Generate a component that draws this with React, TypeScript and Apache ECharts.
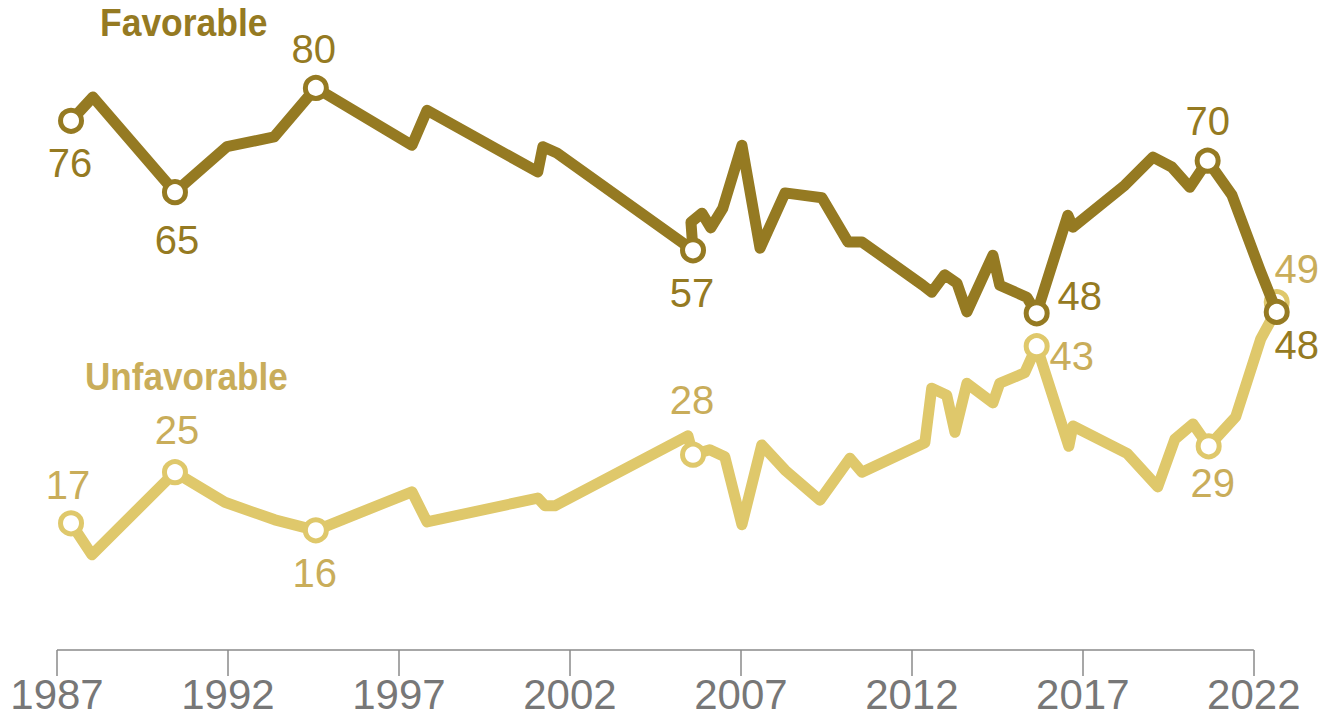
import React, { useEffect, useRef } from "react";
import * as echarts from "echarts";

const BASE_YEAR = 1987;
const tickYears = [1987, 1992, 1997, 2002, 2007, 2012, 2017, 2022];
const AXIS_END_YEAR = 2023;

const favYears = [
  1987.41, 1988.05, 1990.45, 1991.97, 1993.35, 1994.57, 1997.38, 1997.82, 2001.06, 2001.21,
  2001.62, 2005.6, 2005.54, 2005.86, 2006.12, 2006.47, 2007.03, 2007.56, 2008.29, 2009.37,
  2010.13, 2010.54, 2012.32, 2012.58, 2012.96, 2013.32, 2013.61, 2014.37, 2014.57, 2015.36,
  2015.65, 2016.56, 2016.71, 2018.23, 2019.05, 2019.6, 2020.13, 2020.65, 2021.36, 2022.18,
  2022.67,
];
const favValues = [
  75.6, 79, 65.4, 71.9, 73.3, 80.3, 72.1, 77.1, 68.3, 71.9,
  71, 57.1, 61.1, 62.4, 60.3, 63.1, 72.1, 57.4, 65.3, 64.6,
  58.3, 58.3, 52.1, 51.1, 53.6, 52.4, 48.3, 56.4, 52.1, 50.4,
  48.1, 62.1, 60.4, 66.4, 70.4, 69, 66.1, 69.9, 65, 54.3,
  48.3,
];
const favMarkerIdx = [0, 2, 5, 11, 30, 37, 40];
const favLabels = ["76", "65", "80", "57", "48", "70", "48"];

const unfavYears = [
  1987.41, 1988.02, 1990.45, 1991.91, 1993.37, 1994.57, 1997.38, 1997.82, 2001.06, 2001.27,
  2001.56, 2005.45, 2005.6, 2006.09, 2006.53, 2007.03, 2007.61, 2008.29, 2009.31, 2010.19,
  2010.54, 2012.38, 2012.58, 2013.02, 2013.26, 2013.61, 2014.37, 2014.57, 2015.3, 2015.65,
  2016.59, 2016.71, 2018.29, 2019.19, 2019.69, 2020.22, 2020.68, 2021.47, 2022.2, 2022.49,
  2022.67,
];
const unfavValues = [
  18.1, 13.6, 25.4, 21.1, 18.6, 17.1, 22.6, 18.3, 21.7, 20.6,
  20.6, 30.6, 27.9, 28.6, 27.6, 17.9, 29.3, 25.7, 21.4, 27.4,
  25.4, 29.6, 37.4, 36.4, 31.1, 38.1, 35.3, 38.1, 39.6, 43.4,
  29.1, 32, 28.1, 23.3, 30.1, 32.3, 29.1, 33.3, 44.4, 47,
  49.7,
];
const unfavMarkerIdx = [0, 2, 5, 12, 29, 36, 40];
const unfavLabels = ["17", "25", "16", "28", "43", "29", "49"];

// label offsets relative to marker centre (styling)
const favLabelOffsets = [[-1, 42], [2, 48], [-2, -39], [-1, 43], [43, -17], [0, -40], [20, 33]];
const unfavLabelOffsets = [[-3, -38], [2, -42], [-1, 43], [-1, -55], [35, 10], [4, 37], [20, -33]];

const FAV = "#957A22";
const UNFAV = "#DFC86B";
const UNFAV_TEXT = "#C9AD5A";
const AXIS = "#8a8a8a";
const FONT = "'Liberation Sans', Arial, sans-serif";

export default function App() {
  const ref = useRef<HTMLDivElement>(null);
  useEffect(() => {
    if (!ref.current) return;
    const chart = echarts.init(ref.current, null, { renderer: "svg" });
    const toPts = (ys: number[], vs: number[]) => ys.map((y, i) => [y - BASE_YEAR, vs[i]]);
    const markers = (ys: number[], vs: number[], idx: number[], labels: string[], offs: number[][], textColor: string) =>
      idx.map((k, j) => ({
        value: [ys[k] - BASE_YEAR, vs[k]],
        label: {
          show: true,
          formatter: labels[j],
          position: "inside",
          offset: offs[j],
          color: textColor,
          fontSize: 40,
          fontFamily: FONT,
        },
      }));
    const tickOffsets = tickYears.map((y) => y - BASE_YEAR);
    const option: any = {
      animation: false,
      grid: { left: 57, right: 37, top: 20, bottom: 68 },
      xAxis: {
        type: "value",
        min: 0,
        max: AXIS_END_YEAR - BASE_YEAR,
        axisLine: { show: false },
        axisTick: {
          show: true,
          length: 26,
          customValues: tickOffsets,
          lineStyle: { color: AXIS, width: 1.5 },
        },
        splitLine: { show: false },
        axisLabel: {
          customValues: tickOffsets,
          formatter: (v: number) => String(v + BASE_YEAR),
          fontSize: 42,
          lineHeight: 36,
          color: "#777777",
          fontFamily: FONT,
          margin: 26,
        },
      },
      yAxis: { type: "value", min: 0, max: 90, show: false },
      series: [
        {
          type: "line",
          data: toPts(unfavYears, unfavValues),
          symbol: "none",
          clip: false,
          z: 1,
          lineStyle: { color: UNFAV, width: 11, cap: "round", join: "round" },
          markLine: {
            silent: true,
            symbol: "none",
            label: { show: false },
            lineStyle: { color: AXIS, width: 1.5, type: "solid" },
            data: [[{ coord: [tickOffsets[0], 0] }, { coord: [tickOffsets[tickOffsets.length - 1], 0] }]],
          },
        },
        {
          type: "scatter",
          data: markers(unfavYears, unfavValues, unfavMarkerIdx, unfavLabels, unfavLabelOffsets, UNFAV_TEXT),
          symbol: "circle",
          symbolSize: 21,
          clip: false,
          z: 2,
          itemStyle: { color: "#ffffff", borderColor: UNFAV, borderWidth: 5, opacity: 1 },
        },
        {
          type: "line",
          data: toPts(favYears, favValues),
          symbol: "none",
          clip: false,
          z: 3,
          lineStyle: { color: FAV, width: 11, cap: "round", join: "round" },
        },
        {
          type: "scatter",
          data: markers(favYears, favValues, favMarkerIdx, favLabels, favLabelOffsets, FAV),
          symbol: "circle",
          symbolSize: 21,
          clip: false,
          z: 4,
          itemStyle: { color: "#ffffff", borderColor: FAV, borderWidth: 5, opacity: 1 },
        },
      ],
      graphic: [
        {
          type: "text",
          x: 100,
          y: 22,
          scaleX: 0.91,
          style: {
            text: "Favorable",
            fill: FAV,
            font: `bold 39px ${FONT}`,
            textVerticalAlign: "middle",
            verticalAlign: "middle",
          },
        },
        {
          type: "text",
          x: 85,
          y: 376,
          scaleX: 0.9,
          style: {
            text: "Unfavorable",
            fill: UNFAV_TEXT,
            font: `bold 39px ${FONT}`,
            textVerticalAlign: "middle",
            verticalAlign: "middle",
          },
        },
      ],
    };
    chart.setOption(option);
    return () => chart.dispose();
  }, []);
  return (
    <div
      ref={ref}
      style={{ position: "fixed", left: 0, top: 0, width: 1325, height: 718, background: "#ffffff" }}
    />
  );
}
